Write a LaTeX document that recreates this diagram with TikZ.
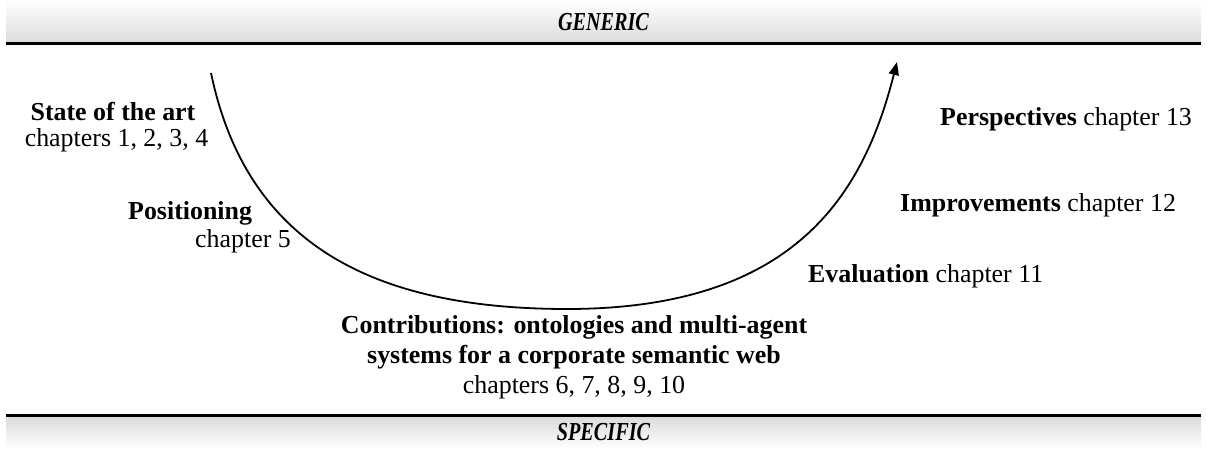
\documentclass[tikz,border=0pt]{standalone}
\usepackage{fontspec}
\setmainfont{Liberation Serif}
\newfontfamily\bandfont[FakeStretch=0.78]{Liberation Serif}
\usetikzlibrary{arrows.meta}
\begin{document}
\begin{tikzpicture}[x=1bp,y=-1bp,
  band/.style={top color=white, bottom color=black!14, draw=none},
  bandline/.style={line width=3bp, line cap=butt},
  bandtext/.style={inner sep=0pt, font=\bandfont\fontsize{26}{30}\selectfont\bfseries\itshape},
  lbl/.style={inner sep=0pt, anchor=base, font=\fontsize{26}{30}\selectfont},
  lblw/.style={inner sep=0pt, anchor=base west, font=\fontsize{26}{30}\selectfont},
  arc/.style={line width=1.8bp, -{Triangle[length=13bp,width=10bp]}}]
\useasboundingbox (0,0) rectangle (1207,449);

% top and bottom bands
\shade[band] (6,0) rectangle (1201,43);
\draw[bandline] (6,43.5) -- (1201,43.5);
\shade[top color=black!14, bottom color=white, draw=none] (6,417) rectangle (1201,449);
\draw[bandline] (6,415.5) -- (1201,415.5);
\node[bandtext] (generic) at (603.5,22) {GENERIC};
\node[bandtext] (specific) at (603.5,432) {SPECIFIC};

% the path from generic to specific and back
\coordinate (start) at (211,73);
\coordinate (low) at (567,309);
\coordinate (tip) at (897,62);
\draw[arc] (start) .. controls (246,240) and (367,309) .. (low)
                   .. controls (797,309) and (864,192) .. (tip);

% stage labels
\node[lbl] (soa) at (113,121) {\textbf{State of the art}};
\node[lbl] (soach) at (116.5,147) {chapters 1, 2, 3, 4};
\node[lblw] (pos) at (128,220) {\textbf{Positioning}};
\node[lblw] (posch) at (195,248) {chapter 5};
\node[lbl] (contrib1) at (574,334) {\textbf{Contributions: ontologies and multi-agent}};
\node[lbl] (contrib2) at (574,364) {\textbf{systems for a corporate semantic web}};
\node[lbl] (contribch) at (574,394) {chapters 6, 7, 8, 9, 10};
\node[lblw] (eval) at (808,283) {\textbf{Evaluation} chapter 11};
\node[lblw] (impr) at (900,212) {\textbf{Improvements} chapter 12};
\node[lblw] (persp) at (940,126) {\textbf{Perspectives} chapter 13};
\end{tikzpicture}
\end{document}
